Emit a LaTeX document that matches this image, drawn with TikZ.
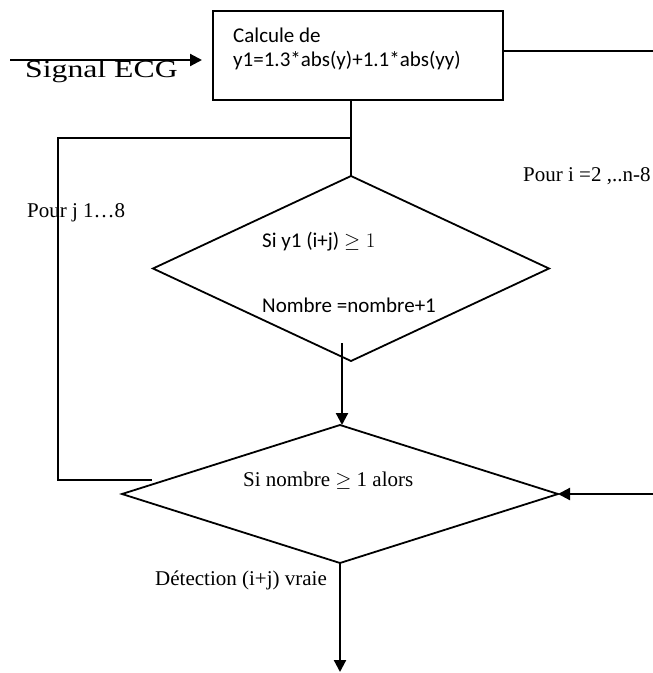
\documentclass[tikz,border=0pt]{standalone}
\usepackage{fontspec}
\setmainfont{Liberation Serif}
\newfontfamily\calibrifont{Carlito}
\usetikzlibrary{arrows.meta,shapes.geometric}
\begin{document}
\begin{tikzpicture}[x=1pt,y=-1pt,
  flow/.style={line width=2.2pt,-{Triangle[length=12pt,width=12pt]}},
  conn/.style={line width=1.8pt},
  decision/.style={draw,diamond,line width=1.8pt,inner sep=0pt,outer sep=0pt},
  proc/.style={draw,rectangle,line width=1.8pt,inner sep=0pt,outer sep=0pt},
  lbl/.style={inner sep=0pt,anchor=base west,font=\fontsize{21}{25}\selectfont},
  clbl/.style={inner sep=0pt,anchor=base west,font=\calibrifont\fontsize{21}{25}\selectfont}]
\useasboundingbox (0,0) rectangle (653,673);
% shapes
\node[proc,minimum width=290pt,minimum height=89pt] (box) at (358,55.5) {};
\node[decision,minimum width=396pt,minimum height=185pt] (d1) at (351,268.5) {};
\node[decision,minimum width=436pt,minimum height=138pt] (d2) at (340,494) {};
% texts
\node[clbl] (t1) at (233,42.3) {Calcule de};
\node[clbl] (t2) at (233,66.5) {y1=1.3*abs(y)+1.1*abs(yy)};
\node[clbl] (t3) at (262,247.7) {Si y1 (i+j) $\geq 1$};
\node[clbl] (t4) at (262,312) {Nombre =nombre+1};
\node[lbl] (t5) at (243,486) {Si nombre $\geq$ 1 alors};
\node[lbl] (t6) at (155,585) {Détection (i+j) vraie};
\node[lbl] (t7) at (27,217) {Pour j 1…8};
\node[lbl] (t8) at (523,181) {Pour i =2 ,..n-8};
\node[inner sep=0pt,anchor=base west,font=\fontsize{24.6}{28}\selectfont] (sig) at (25,77) {\scalebox{1.29}[1]{Signal ECG}};
% coordinates
\coordinate (s0) at (10,60);
\coordinate (r1) at (653,51);
\coordinate (j1) at (352,138);
\coordinate (l1) at (58,138);
\coordinate (l2) at (152,480);
\coordinate (a0) at (342,343);
\coordinate (r2) at (653,494);
\coordinate (b0) at (340,672);
% connectors
\draw[flow,shorten >=11pt] (s0) -- (box.west |- s0);
\draw[conn] (box.east |- r1) -- (r1);
\draw[conn] (d1.north |- box.south) -- (d1.north);
\draw[conn] (d1.north |- j1) -- (l1) -- (l1 |- l2) -- (l2);
\draw[flow] (a0) -- (a0 |- d2.north);
\draw[flow] (r2) -- (d2.east);
\draw[flow] (d2.south) -- (b0);
\end{tikzpicture}
\end{document}
